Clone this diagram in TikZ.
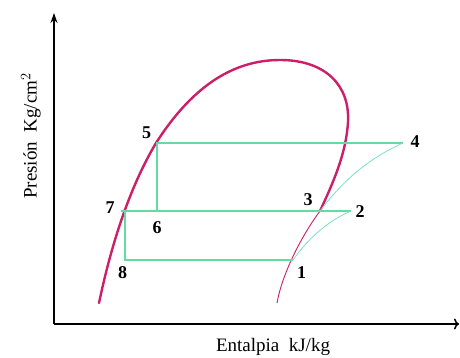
\documentclass[tikz,border=0pt]{standalone}
\usepackage{fontspec}
\setmainfont{Liberation Serif}
\usetikzlibrary{arrows.meta}
\definecolor{dome}{RGB}{205,30,105}
\definecolor{cyc}{RGB}{100,220,160}
\definecolor{cycl}{RGB}{120,225,195}
\tikzset{
  domeline/.style={draw=dome, line width=2.4pt, line join=round, line cap=round},
  domethin/.style={draw=dome, line width=0.9pt, line cap=round},
  cycleline/.style={draw=cyc, line width=1.3pt},
  compline/.style={draw=cycl, line width=0.8pt},
  ptlabel/.style={font=\fontsize{18}{18}\selectfont\bfseries, inner sep=0pt},
  axlabel/.style={font=\fontsize{19}{19}\selectfont, inner sep=0pt},
  axisline/.style={line width=1.5pt, black}
}
\begin{document}
\begin{tikzpicture}[x=1pt,y=-1pt]
\useasboundingbox (0,0) rectangle (460,358);
% axes
\coordinate (O) at (54,324);
\coordinate (ytop) at (54,13);
\coordinate (xend) at (459,324);
\draw[axisline, -{Stealth[length=10pt,width=7pt]}] (O) -- (ytop);
\draw[axisline, -{To[length=5pt,width=11pt]}] (O) -- (xend);
\node[axlabel] (xl) at (273,347) {Entalpia\ \ kJ/kg};
\node[axlabel, rotate=90] (yl) at (31,136) {Presión\ \ Kg/cm$^{2}$};
% state points
\coordinate (p1) at (293,260);
\coordinate (p2) at (351,211);
\coordinate (p3) at (320,211);
\coordinate (p4) at (403,143);
\coordinate (p5) at (156,143);
\coordinate (p6) at (157,211);
\coordinate (p7) at (121,211);
\coordinate (p8) at (125,260);
\coordinate (p5b) at (157,143);
\coordinate (p7b) at (125,211);
\coordinate (d0) at (99,303);
\coordinate (dtop) at (280,60);
\coordinate (dright) at (348,122);
\coordinate (d9) at (277,303);
% saturation dome
\draw[domeline] (d0) .. controls (108,260) and (125,195) .. (p5)
  .. controls (190,90) and (230,60) .. (dtop)
  .. controls (325,60) and (350,85) .. (dright)
  .. controls (346,155) and (332,185) .. (p3);
\draw[domethin] (p3) .. controls (300,238) and (282,275) .. (d9);
% cycle
\draw[cycleline] (p5) -- (p4);
\draw[cycleline] (p5b) -- (p6);
\draw[cycleline] (p7) -- (p2);
\draw[cycleline] (p7b) -- (p8) -- (p1);
\draw[compline] (p1) .. controls (310,236) and (330,220) .. (p2);
\draw[compline] (p3) .. controls (345,178) and (370,158) .. (p4);
% labels
\node[ptlabel] (l1) at (301.5,273) {1};
\node[ptlabel] (l2) at (360,212) {2};
\node[ptlabel] (l3) at (308,200) {3};
\node[ptlabel] (l4) at (415,141.5) {4};
\node[ptlabel] (l5) at (146.5,133) {5};
\node[ptlabel] (l6) at (157,228) {6};
\node[ptlabel] (l7) at (110,208) {7};
\node[ptlabel] (l8) at (122.5,273) {8};
\end{tikzpicture}
\end{document}
